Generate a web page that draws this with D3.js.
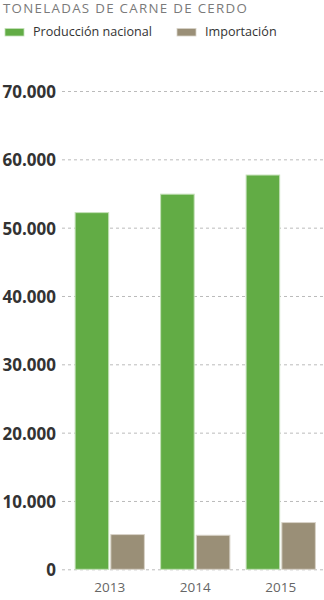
<!DOCTYPE html>
<html><head><meta charset="utf-8">
<script src="https://cdn.jsdelivr.net/npm/d3@7"></script>
<style>body{margin:0;background:#fff;}svg{display:block;font-family:"Open Sans",sans-serif;}</style>
</head><body>
<svg id="c" width="324" height="600"></svg>
<script>
const years = ["2013","2014","2015"];
const seriesNames = ["Producción nacional","Importación"];
const produccion = [52200, 54900, 57700];
const importacion = [5080, 4980, 6840];
const yTicks = [0,10000,20000,30000,40000,50000,60000,70000];
const colors = ["#62ac45","#9a8f77"];
const strokes = ["#c4e0b8","#d8d3c8"];

const svg = d3.select("#c");
const fmt = d => d3.format(",")(d).replace(/,/g,".");

const y = d3.scaleLinear().domain([0,70000]).range([569.3,91]);
const x = d3.scaleBand().domain(years).range([67,323.5]).paddingInner(0.19).paddingOuter(0.095);
const xs = d3.scaleBand().domain(seriesNames).range([0,x.bandwidth()]).paddingInner(0.06);

svg.append("text").attr("x",3).attr("y",12.5).attr("fill","#7a7a7a").attr("font-size","13.3px").attr("letter-spacing","1.3px").text("TONELADAS DE CARNE DE CERDO");

// legend
const lg = svg.append("g");
const legX = [5,177];
seriesNames.forEach((s,i)=>{
  lg.append("rect").attr("x",legX[i]).attr("y",28.5).attr("width",19).attr("height",7.5).attr("fill",colors[i]).attr("stroke",strokes[i]).attr("stroke-width",0.8);
  lg.append("text").attr("x",legX[i]+28).attr("y",36).attr("fill","#333").attr("font-size","12.6px").text(s);
});

// grid
const grid = svg.append("g").attr("class","grid")
  .call(d3.axisLeft(y).tickValues(yTicks).tickSize(-(324-62)).tickFormat(""))
  .attr("transform","translate(62,0)");
grid.select(".domain").remove();
grid.selectAll("line").attr("stroke","#bbb").attr("stroke-dasharray","3,3").attr("stroke-width",1);

// y labels
const ya = svg.append("g").attr("transform","translate(56,0)")
  .call(d3.axisLeft(y).tickValues(yTicks).tickSize(0).tickPadding(0).tickFormat(fmt));
ya.select(".domain").remove();
ya.selectAll("text").attr("font-family","'Open Sans',sans-serif").attr("font-weight","bold").attr("font-size","17px").attr("fill","#333").attr("dy","0.38em");

// bars
const data = years.map((yr,i)=>({year:yr, vals:[produccion[i],importacion[i]]}));
const g = svg.append("g").selectAll("g").data(data).join("g").attr("transform",d=>`translate(${x(d.year)},0)`);
g.selectAll("rect").data(d=>d.vals.map((v,i)=>({v,i}))).join("rect")
  .attr("x",d=>xs(seriesNames[d.i])).attr("width",xs.bandwidth())
  .attr("y",d=>y(d.v)).attr("height",d=>y(0)-y(d.v))
  .attr("fill",d=>colors[d.i]).attr("stroke",d=>strokes[d.i]).attr("stroke-width",1);

// x labels
const xa = svg.append("g").attr("transform","translate(0,569.3)")
  .call(d3.axisBottom(x).tickSize(0).tickPadding(0));
xa.select(".domain").remove();
xa.selectAll("text").attr("font-family","'Open Sans',sans-serif").attr("font-size","13.5px").attr("fill","#666").attr("dy",0).attr("y",22.5);
</script>
</body></html>
